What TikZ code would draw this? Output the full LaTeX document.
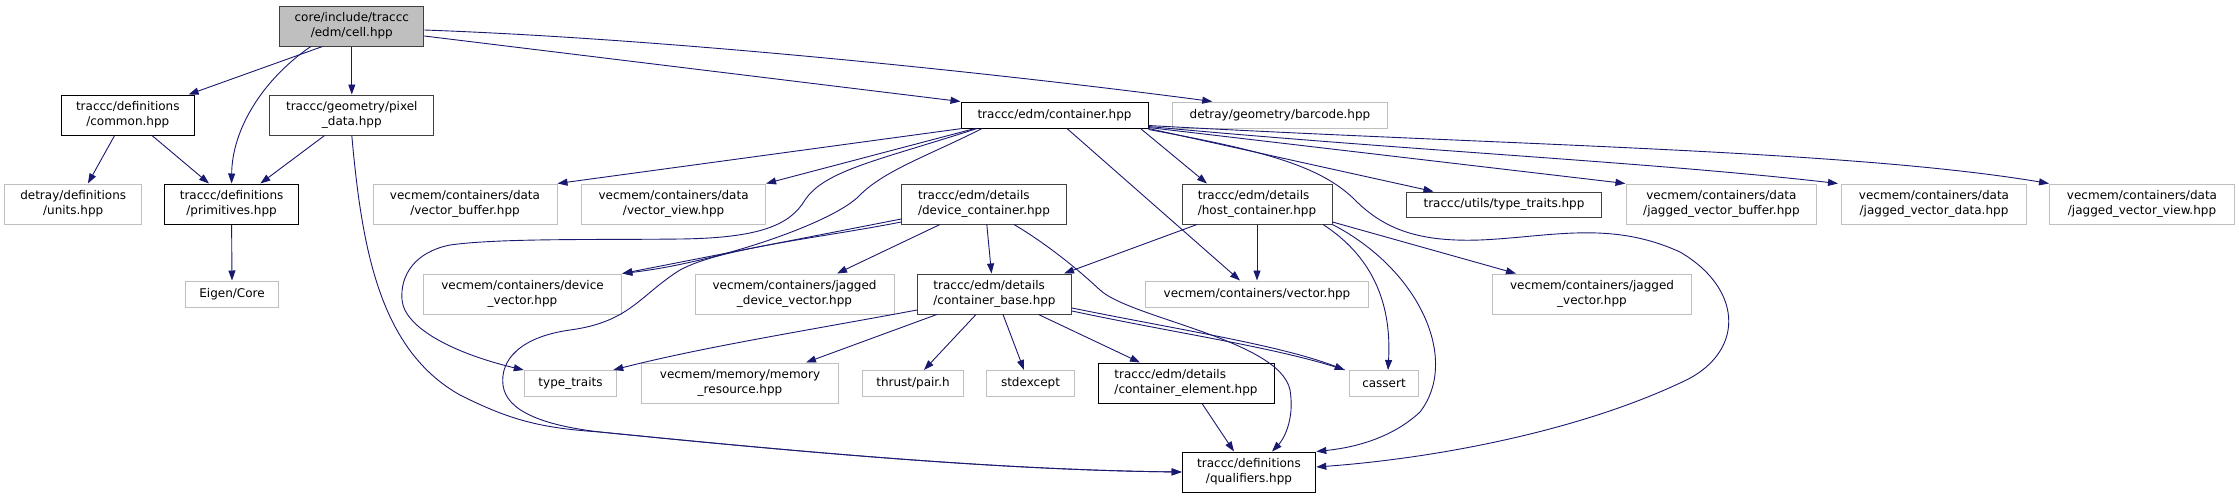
\documentclass[tikz,border=0pt]{standalone}
\usepackage{fontspec}
\setmainfont{DejaVu Sans}
\usetikzlibrary{arrows.meta}
\definecolor{edgeblue}{HTML}{191970}
\definecolor{greyline}{HTML}{BFBFBF}
\definecolor{darkline}{HTML}{404040}
\tikzset{
  base/.style={draw, inner sep=0pt, font=\fontsize{12}{15}\selectfont, text=black, line width=1pt},
  gbox/.style={base, draw=greyline, fill=white, align=center},
  bbox/.style={base, draw=black, fill=white, align=center},
  dbox/.style={base, draw=darkline, fill=white, align=center},
  lbox/.style={base, draw=darkline, fill=white, align=left},
  lbbox/.style={base, draw=black, fill=white, align=left},
  rootbox/.style={base, draw=darkline, fill=greyline, align=center},
  e/.style={draw=edgeblue, line width=0.9pt, -{Triangle[length=10pt,width=7pt]}, fill=none},
}
\begin{document}
\begin{tikzpicture}[x=1pt,y=-1pt]
\useasboundingbox (0,0) rectangle (2239,499);
% row 0
\node[rootbox, minimum width=144pt, minimum height=40pt] (cell) at (351.8,26) {core/include/traccc\\/edm/cell.hpp};
% row 1
\node[bbox, minimum width=133.6pt, minimum height=40pt] (common) at (127.8,115) {traccc/definitions\\/common.hpp};
\node[dbox, minimum width=164pt, minimum height=40pt] (pixel) at (351.8,115) {traccc/geometry/pixel\\\_data.hpp};
\node[bbox, minimum width=187pt, minimum height=26pt] (container) at (1054.5,115) {traccc/edm/container.hpp};
\node[gbox, minimum width=214.5pt, minimum height=26pt] (barcode) at (1280,115) {detray/geometry/barcode.hpp};
% row 2
\node[gbox, minimum width=137pt, minimum height=40pt] (units) at (73.2,204) {detray/definitions\\/units.hpp};
\node[bbox, minimum width=134pt, minimum height=40pt] (primitives) at (231.6,204) {traccc/definitions\\/primitives.hpp};
\node[gbox, minimum width=184pt, minimum height=40pt] (vbuf) at (465,204) {vecmem/containers/data\\/vector\_buffer.hpp};
\node[gbox, minimum width=184pt, minimum height=40pt] (vview) at (673.6,204) {vecmem/containers/data\\/vector\_view.hpp};
\node[lbox, minimum width=164.6pt, minimum height=40pt] (devcont) at (984,204) {traccc/edm/details\\/device\_container.hpp};
\node[lbox, minimum width=150pt, minimum height=40pt] (hostcont) at (1257,204) {traccc/edm/details\\/host\_container.hpp};
\node[dbox, minimum width=195.4pt, minimum height=25pt] (utt) at (1504,204.5) {traccc/utils/type\_traits.hpp};
\node[gbox, minimum width=190.8pt, minimum height=40pt] (jvbuf) at (1721.4,204) {vecmem/containers/data\\/jagged\_vector\_buffer.hpp};
\node[gbox, minimum width=185pt, minimum height=40pt] (jvdata) at (1934,204) {vecmem/containers/data\\/jagged\_vector\_data.hpp};
\node[gbox, minimum width=185pt, minimum height=40pt] (jvview) at (2142,204) {vecmem/containers/data\\/jagged\_vector\_view.hpp};
% row 3
\node[gbox, minimum width=92.5pt, minimum height=26pt] (eigen) at (232,294) {Eigen/Core};
\node[gbox, minimum width=198.6pt, minimum height=40pt] (devvec) at (522.5,294) {vecmem/containers/device\\\_vector.hpp};
\node[gbox, minimum width=199pt, minimum height=40pt] (jdevvec) at (794.5,294) {vecmem/containers/jagged\\\_device\_vector.hpp};
\node[lbox, minimum width=154pt, minimum height=40pt] (cbase) at (994.5,294) {traccc/edm/details\\/container\_base.hpp};
\node[gbox, minimum width=223pt, minimum height=26pt] (vector) at (1257,294) {vecmem/containers/vector.hpp};
\node[gbox, minimum width=199pt, minimum height=40pt] (jvec) at (1592,294) {vecmem/containers/jagged\\\_vector.hpp};
% row 4
\node[gbox, minimum width=92.5pt, minimum height=26pt] (tt) at (570.5,383.5) {type\_traits};
\node[gbox, minimum width=197pt, minimum height=40pt] (memres) at (740,383) {vecmem/memory/memory\\\_resource.hpp};
\node[gbox, minimum width=100.7pt, minimum height=26pt] (pair) at (913,383.5) {thrust/pair.h};
\node[gbox, minimum width=87.5pt, minimum height=26pt] (stdexc) at (1030.5,383.5) {stdexcept};
\node[lbbox, minimum width=176pt, minimum height=40pt] (celem) at (1186,383) {traccc/edm/details\\/container\_element.hpp};
\node[gbox, minimum width=69.6pt, minimum height=26pt] (cassert) at (1384,383.5) {cassert};
% row 5
\node[bbox, minimum width=133.6pt, minimum height=40pt] (qual) at (1249,472) {traccc/definitions\\/qualifiers.hpp};

% ---- edges from cell
\draw[e] ([xshift=-29.3pt]cell.south) -- ([xshift=60.8pt]common.north);
\draw[e] ([xshift=-41pt]cell.south) .. controls (262,80) and (232,130) .. (primitives.north);
\draw[e] (cell.south) -- (pixel.north);
\draw[e] ([yshift=-10pt]cell.east) -- (container.north west);
\draw[e] ([yshift=-4pt]cell.east) .. controls (700,40) and (1050,80) .. ([xshift=40pt]barcode.north west);
% ---- common / pixel / primitives
\draw[e] ([xshift=-13.2pt]common.south) -- ([xshift=14.7pt]units.north);
\draw[e] ([xshift=24.2pt]common.south) -- ([xshift=-22.6pt]primitives.north);
\draw[e] ([xshift=-27.2pt]pixel.south) -- ([xshift=28.8pt]primitives.north);
\draw[e] (pixel.south) .. controls (362,250) and (380,350) .. (460,395) .. controls (510,420) and (540,428) .. (600,432) .. controls (800,452) and (1000,470) .. (qual.west);
\draw[e] (primitives.south) -- (eigen.north);
% ---- container, left side
\draw[e] ([xshift=-92.5pt]container.south) -- (vbuf.north east);
\draw[e] ([xshift=-79.5pt]container.south) -- (vview.north east);
\draw[e] ([xshift=-77.5pt]container.south) .. controls (880,160) and (825,170) .. (805,200) .. controls (790,225) and (760,238) .. (680,239) .. controls (600,240) and (500,238) .. (450,245) .. controls (415,252) and (400,275) .. (402,300) .. controls (405,330) and (460,355) .. (tt.north west);
\draw[e] ([xshift=-72.5pt]container.south) .. controls (930,155) and (885,170) .. (860,195) .. controls (835,222) and (720,262) .. (devvec.north east);
% ---- container, right side
\draw[e] ([xshift=12.5pt]container.south) -- ([xshift=-17pt]vector.north);
\draw[e] ([xshift=-8pt]container.south east) -- ([xshift=-50pt]hostcont.north);
\draw[e] (container.south east) -- ([xshift=-70.5pt]utt.north);
\draw[e] ([yshift=1pt]container.south east) -- (jvbuf.north west);
\draw[e] ([yshift=2pt]container.south east) .. controls (1400,150) and (1650,162) .. ([xshift=-3pt]jvdata.north west);
\draw[e] ([yshift=3pt]container.south east) .. controls (1500,145) and (1850,150) .. (jvview.north west);
\draw[e] ([yshift=-1pt]container.south east) .. controls (1260,150) and (1320,165) .. (1355,200) .. controls (1385,230) and (1420,242) .. (1480,240) .. controls (1550,237) and (1610,220) .. (1680,252) .. controls (1745,290) and (1745,355) .. (1680,383) .. controls (1580,430) and (1440,458) .. ([yshift=5pt]qual.east);
% ---- device_container
\draw[e] ([yshift=-15pt]devcont.west) -- (devvec.north east);
\draw[e] ([yshift=-18pt]devcont.west) .. controls (820,238) and (720,248) .. (680,270) .. controls (640,295) and (630,322) .. (570,330) .. controls (520,337) and (500,360) .. (503,385) .. controls (506,410) and (540,425) .. (600,432) .. controls (800,452) and (1000,470) .. (qual.west);
\draw[e] ([xshift=-44pt]devcont.south) -- ([xshift=42.5pt]jdevvec.north);
\draw[e] ([xshift=2.8pt]devcont.south) -- ([xshift=-3pt]cbase.north);
\draw[e] ([xshift=30pt]devcont.south) .. controls (1040,240) and (1070,262) .. (1100,290) .. controls (1130,318) and (1280,340) .. (1290,390) .. controls (1295,420) and (1283,440) .. ([xshift=23pt]qual.north);
% ---- host_container
\draw[e] ([xshift=-60pt]hostcont.south) -- ([xshift=-8pt]cbase.north east);
\draw[e] (hostcont.south) -- (vector.north);
\draw[e] ([xshift=66pt]hostcont.south) .. controls (1370,255) and (1392,300) .. ([xshift=4pt]cassert.north);
\draw[e] (hostcont.south east) .. controls (1420,270) and (1460,360) .. (1420,412) .. controls (1390,440) and (1350,448) .. (qual.north east);
\draw[e] ([yshift=-18pt]hostcont.east) -- ([xshift=-76pt]jvec.north);
% ---- container_base
\draw[e] ([yshift=-16pt]cbase.west) .. controls (810,330) and (703,347) .. ([xshift=-4pt]tt.north east);
\draw[e] ([xshift=-57.7pt]cbase.south) -- ([xshift=66pt]memres.north);
\draw[e] ([xshift=-18.5pt]cbase.south) -- ([xshift=11pt]pair.north);
\draw[e] ([xshift=8.5pt]cbase.south) -- ([xshift=-6.5pt]stdexc.north);
\draw[e] ([xshift=44pt]cbase.south) -- ([xshift=-46pt]celem.north);
\draw[e] ([yshift=-14pt]cbase.east) .. controls (1180,330) and (1280,345) .. ([xshift=-4pt]cassert.north west);
\draw[draw=edgeblue, line width=0.9pt] ([yshift=-17pt]cbase.east) .. controls (1180,334) and (1280,348) .. ([xshift=-4pt]cassert.north west);
% ---- container_element
\draw[e] ([xshift=16pt]celem.south) -- ([xshift=-15pt]qual.north);
\end{tikzpicture}
\end{document}
